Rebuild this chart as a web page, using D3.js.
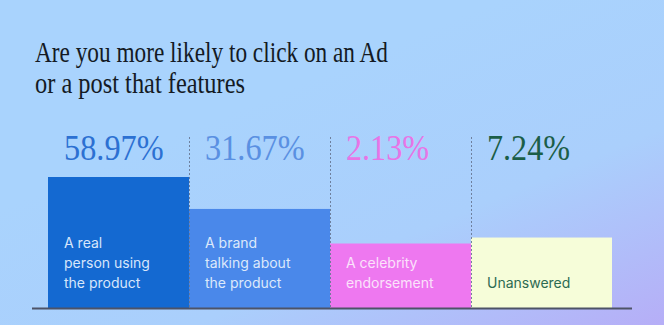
<!DOCTYPE html>
<html>
<head>
<meta charset="utf-8">
<script src="https://cdn.jsdelivr.net/npm/d3@7/dist/d3.min.js"></script>
<style>
  html, body { margin: 0; padding: 0; background: #a9d3fd; }
  svg { display: block; }
</style>
</head>
<body>
<svg id="chart" width="664" height="325"></svg>
<script>
// Survey answers, in display order
const categories = ["A real person using the product", "A brand talking about the product", "A celebrity endorsement", "Unanswered"];
const labelLines = [["A real", "person using", "the product"], ["A brand", "talking about", "the product"], ["A celebrity", "endorsement"], ["Unanswered"]];
const shares = [58.97, 31.67, 2.13, 7.24];
const valueLabels = ["58.97%", "31.67%", "2.13%", "7.24%"];
const titleLines = ["Are you more likely to click on an Ad", "or a post that features"];

const barColors = ["#1469d1", "#4a88ea", "#ee78f0", "#f6fdd9"];
const valueColors = ["#2c70d2", "#5a90e2", "#e775e6", "#1b5e48"];
const innerTextColors = ["#d7e6fb", "#dce8fb", "#fbe2fb", "#2d6b52"];

const W = 664, H = 325;
const svg = d3.select("#chart");

// Background wash: sky blue drifting into lavender at the lower right
const defs = svg.append("defs");
const grad = defs.append("linearGradient").attr("id", "bg")
  .attr("x1", "0.4").attr("y1", "0.3").attr("x2", "1").attr("y2", "1");
grad.append("stop").attr("offset", "0").attr("stop-color", "#a9d3fd");
grad.append("stop").attr("offset", "0.5").attr("stop-color", "#aacffc");
grad.append("stop").attr("offset", "1").attr("stop-color", "#b6aef7");
svg.append("rect").attr("width", W).attr("height", H).attr("fill", "url(#bg)");

// Title
const title = svg.append("g").attr("font-family", "'Liberation Serif', 'DejaVu Serif', serif")
  .attr("fill", "#141a24").attr("font-size", 29);
const titleWidths = [353, 210];
titleLines.forEach((t, i) => {
  title.append("text").attr("x", 35).attr("y", 62 + i * 31)
    .attr("textLength", titleWidths[i]).attr("lengthAdjust", "spacingAndGlyphs")
    .text(t);
});

// Scales
const baseline = 308;
const x = d3.scaleBand().domain(categories).range([48, 612]).padding(0);
const y = d3.scaleLinear().domain([0, d3.max(shares)]).range([baseline - 62, 177]);

const data = categories.map((c, i) => ({ c, i, v: shares[i] }));

// Bars
svg.append("g").selectAll("rect").data(data).join("rect")
  .attr("x", d => x(d.c))
  .attr("y", d => y(d.v))
  .attr("width", x.bandwidth())
  .attr("height", d => baseline - y(d.v))
  .attr("fill", d => barColors[d.i]);

// Dotted separators between columns
svg.append("g").selectAll("line").data(categories.slice(1)).join("line")
  .attr("x1", d => x(d) + 0.5).attr("x2", d => x(d) + 0.5)
  .attr("y1", 137).attr("y2", baseline)
  .attr("stroke", "#687894").attr("stroke-width", 1)
  .attr("stroke-dasharray", "2,2").attr("opacity", 0.9);

// Value labels
svg.append("g").selectAll("text").data(data).join("text")
  .attr("x", d => x(d.c) + 16)
  .attr("y", 160)
  .attr("font-family", "'Liberation Serif', 'DejaVu Serif', serif")
  .attr("font-size", 36)
  .attr("textLength", d => valueLabels[d.i].length * 16.6)
  .attr("lengthAdjust", "spacingAndGlyphs")
  .attr("fill", d => valueColors[d.i])
  .text(d => valueLabels[d.i]);

// Category labels inside the bars, bottom aligned
const lab = svg.append("g").attr("font-family", "Inter, 'Noto Sans', sans-serif").attr("font-size", 14);
data.forEach(d => {
  const lines = labelLines[d.i];
  lines.forEach((ln, k) => {
    lab.append("text")
      .attr("x", x(d.c) + 16)
      .attr("y", 288 - (lines.length - 1 - k) * 20)
      .attr("fill", innerTextColors[d.i])
      .text(ln);
  });
});

// Baseline
svg.append("line").attr("x1", 32).attr("x2", 632).attr("y1", baseline + 0.5).attr("y2", baseline + 0.5)
  .attr("stroke", "#4d5367").attr("stroke-width", 2);
</script>
</body>
</html>
